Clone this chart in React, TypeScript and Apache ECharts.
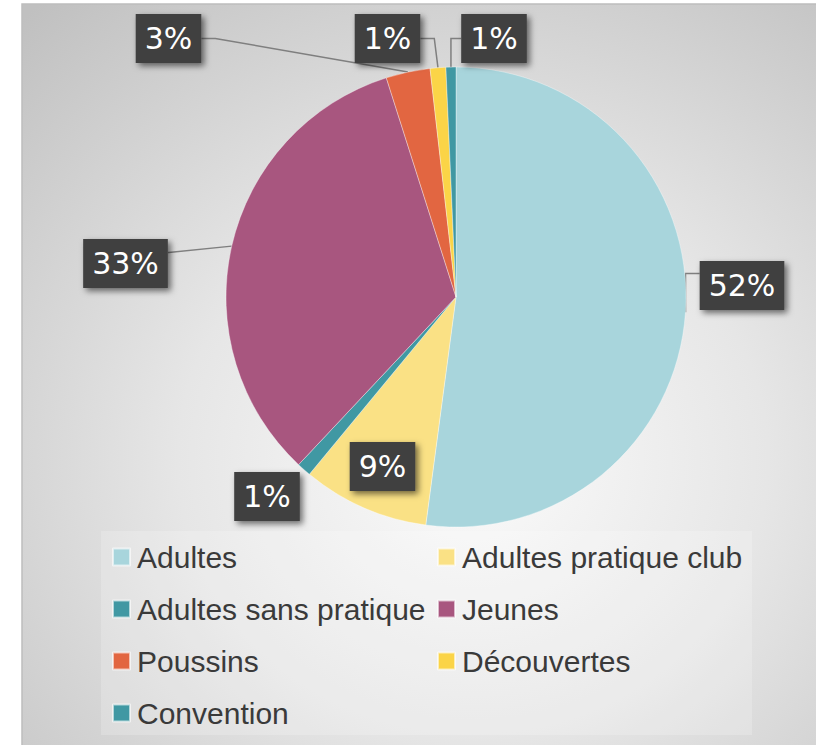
import React, { useEffect, useRef } from "react";
import * as echarts from "echarts";

// ---- data ----
const categories = [
  "Adultes",
  "Adultes pratique club",
  "Adultes sans pratique",
  "Jeunes",
  "Poussins",
  "Découvertes",
  "Convention",
];
const values = [52.1, 8.9, 1.0, 33.1, 3.1, 1.1, 0.7];
const colors = ["#A8D5DC", "#FAE185", "#4098A3", "#A8567F", "#E26641", "#FBD447", "#4098A3"];
const legendCol1 = ["Adultes", "Adultes sans pratique", "Poussins", "Convention"];
const legendCol2 = ["Adultes pratique club", "Jeunes", "Découvertes"];

// ---- layout (positions / styles) ----
const CX = 456;
const CY = 297;
const R = 230;
const labelCenters: number[][] = [
  [742, 285.5],
  [382.5, 466.5],
  [267, 496.5],
  [125.5, 263.5],
  [168.5, 38.5],
  [387.5, 38.5],
  [494, 38.5],
];
const leaderKind = ["vert-left", "none", "none", "straight-right", "hook-right", "hook-right", "vert-left-level"];

function edgePoint(i: number): number[] {
  const total = values.reduce((a, b) => a + b, 0);
  let cum = 0;
  for (let k = 0; k < i; k++) cum += values[k];
  const mid = ((cum + values[i] / 2) / total) * Math.PI * 2;
  return [CX + R * Math.sin(mid), CY - R * Math.cos(mid)];
}

export default function App() {
  const ref = useRef<HTMLDivElement>(null);
  useEffect(() => {
    if (!ref.current) return;
    const chart = echarts.init(ref.current, null, { renderer: "svg" });
    const data = categories.map((name, i) => ({
      name,
      value: values[i],
      itemStyle: { color: colors[i] },
      labelLine: { show: leaderKind[i] !== "none" },
    }));
    const legendBase = {
      orient: "vertical" as const,
      top: 542,
      padding: 0,
      itemGap: 22,
      itemWidth: 17,
      itemHeight: 17,
      icon: "rect",
      selectedMode: false,
      textStyle: {
        color: "#3a3a3a",
        fontSize: 30,
        lineHeight: 30,
        fontFamily: "Liberation Sans, Arial, sans-serif",
        padding: [0, 0, 0, 2],
      },
    };
    chart.setOption({
      animation: false,
      graphic: [
        {
          type: "rect",
          z: -10,
          shape: { x: 22, y: 4, width: 820, height: 760 },
          style: {
            fill: new echarts.graphic.RadialGradient(0.55, 0.6, 0.8, [
              { offset: 0, color: "#fbfbfb" },
              { offset: 0.45, color: "#e6e6e6" },
              { offset: 1, color: "#c0c0c0" },
            ]),
            stroke: "#bdbdbd",
            lineWidth: 1.5,
          },
        },
        {
          type: "rect",
          z: -5,
          shape: { x: 101, y: 531, width: 651, height: 204 },
          style: { fill: "rgba(255,255,255,0.2)" },
        },
      ],
      legend: [
        { ...legendBase, left: 112, data: legendCol1 },
        { ...legendBase, left: 437, data: legendCol2 },
      ],
      series: [
        {
          type: "pie",
          center: [CX, CY],
          radius: R,
          startAngle: 90,
          clockwise: true,
          avoidLabelOverlap: false,
          emphasis: { disabled: true },
          itemStyle: { borderColor: "rgba(255,255,255,0.6)", borderWidth: 0.6 },
          label: {
            show: true,
            position: "outside",
            formatter: (p: any) => Math.round(p.percent) + "%",
            color: "#ffffff",
            fontSize: 30,
            lineHeight: 30,
            fontFamily: "DejaVu Sans, sans-serif",
            backgroundColor: "#404040",
            padding: [10, 9, 9, 9],
            shadowColor: "rgba(0,0,0,0.55)",
            shadowBlur: 6,
            shadowOffsetX: 3,
            shadowOffsetY: 3,
          },
          labelLine: {
            show: true,
            lineStyle: { color: "#7f7f7f", width: 1.5 },
          },
          labelLayout: (params: any) => {
            const i = params.dataIndex;
            const [x, y] = labelCenters[i];
            const w = params.labelRect ? params.labelRect.width : 64;
            const left = x - w / 2;
            const right = x + w / 2;
            const e = edgePoint(i);
            let pts: number[][] | undefined;
            switch (leaderKind[i]) {
              case "vert-left":
                pts = [e, [e[0], y - 12], [left, y - 12]];
                break;
              case "straight-right":
                pts = [e, [right + 1, y - 11], [right, y - 11]];
                break;
              case "hook-right":
                pts = [e, [right + 14, y], [right, y]];
                break;
              case "vert-left-level":
                pts = [e, [e[0], y], [left, y]];
                break;
              default:
                pts = undefined;
            }
            const out: any = { x, y, align: "center", verticalAlign: "middle" };
            if (pts) out.labelLinePoints = pts;
            return out;
          },
          data,
        },
      ],
    });
    return () => chart.dispose();
  }, []);
  return (
    <div
      ref={ref}
      style={{ position: "absolute", left: 0, top: 0, width: 816, height: 745 }}
    />
  );
}
